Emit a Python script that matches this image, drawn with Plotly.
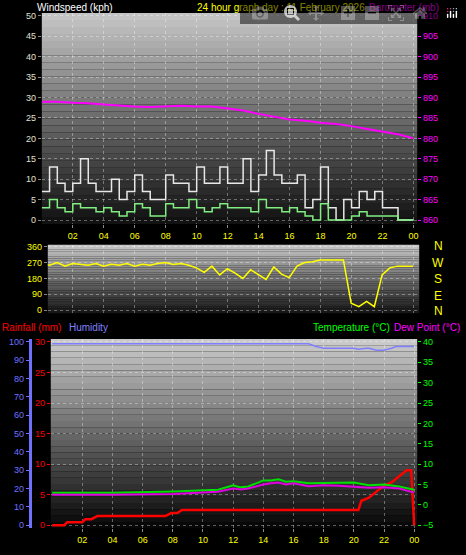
import plotly.graph_objects as go

H = 555.0
W = 466.0
def py(p): return 1 - p / H
def px(p): return p / W

hours_half = [i * 0.5 for i in range(49)]
gust = [7,13,9,7,9,15,9,7,7,10,5,7,11,7,5,5,11,9,9,7,13,9,9,13,9,9,15,7,11,17,11,9,9,11,3,5,13,3,0,5,3,7,5,7,3,3,0,0,0]
avg = [3,5,3,2,4,3,3,2,3,2,1,2,4,3,1,1,4,3,3,5,3,2,3,4,3,3,3,2,5,3,3,2,3,2,1,0,4,0,0,0,1,2,1,1,1,1,0,0,0]
wdir = [265,255,270,250,265,260,255,265,250,260,255,265,250,260,255,265,270,260,265,255,240,215,250,200,235,210,180,230,200,175,245,205,185,250,270,275,285,285,285,285,40,20,50,20,200,240,250,250,250]

baro_h = list(range(25))
baro = [889,889,888.7,888.6,888.3,888,887.8,887.7,887.8,888,887.8,887.8,887.3,886.8,886,885.3,884.6,884.3,883.8,883.5,883,882.3,881.6,881,880]

rain_h = [0,0.8,1,2,2.2,2.6,3,7.5,7.9,8.3,8.6,20.3,20.5,21,21.5,22,22.5,23,23.5,23.8,23.95,24]
rain = [0,0,0.5,0.5,1,1,1.5,1.5,2,2,2.5,2.5,4,4.5,5.5,6.5,7,8,9,9,0.5,0]
hum_h = [0,17,17.5,18,20,20.3,20.8,21,21.5,22,22.5,22.8,24]
hum = [99,99,97.5,96.5,96.5,96,96.5,96.5,95.5,95.5,96.5,97.5,97.5]
temp_h = [0,4,8,10,11,12,12.5,13,14,14.5,15,15.5,16,17,18,19,20,21,22,23,24]
temp = [3,3,3.3,3.5,3.7,4.8,4.3,4.5,6,6,6.3,5.7,5.8,5.3,5.4,5.5,5.5,4.8,5,4.5,3.7]
dew = [2.5,2.5,2.7,3,3.2,4,3.8,4,5,5.3,5.5,5,5.3,4.6,4.8,4.7,4.5,4.2,4.3,4,3]

tick_vals = [2,4,6,8,10,12,14,16,18,20,22,24]
tick_text = ["02","04","06","08","10","12","14","16","18","20","22","00"]

fig = go.Figure()
fig.add_trace(go.Scatter(x=hours_half, y=gust, mode="lines", line=dict(color="#e8e8e8", width=1.5, shape="hv"), xaxis="x", yaxis="y"))
fig.add_trace(go.Scatter(x=hours_half, y=avg, mode="lines", line=dict(color="#80ee80", width=1.5, shape="hv"), xaxis="x", yaxis="y"))
fig.add_trace(go.Scatter(x=baro_h, y=baro, mode="lines", line=dict(color="#ff00ff", width=2), xaxis="x", yaxis="y2"))
fig.add_trace(go.Scatter(x=hours_half, y=wdir, mode="lines", line=dict(color="#ffff00", width=1.5), xaxis="x2", yaxis="y3"))
fig.add_trace(go.Scatter(x=hum_h, y=hum, mode="lines", line=dict(color="#8080ff", width=1.5), xaxis="x3", yaxis="y5"))
fig.add_trace(go.Scatter(x=temp_h, y=temp, mode="lines", line=dict(color="#00e000", width=2), xaxis="x3", yaxis="y6"))
fig.add_trace(go.Scatter(x=temp_h, y=dew, mode="lines", line=dict(color="#e000e0", width=2), xaxis="x3", yaxis="y6"))
fig.add_trace(go.Scatter(x=rain_h, y=rain, mode="lines", line=dict(color="#ff0000", width=2.5), xaxis="x3", yaxis="y4"))

shapes = []
def gradient(x0, x1, y0, y1, top=200, bottom=10, n=30):
    for i in range(n):
        a = y0 + (y1 - y0) * i / n
        b = y0 + (y1 - y0) * (i + 1) / n
        c = int(top + (bottom - top) * (i + 0.5) / n)
        shapes.append(dict(type="rect", xref="paper", yref="paper", x0=px(x0), x1=px(x1),
                           y0=py(b), y1=py(a), fillcolor=f"rgb({c},{c},{c})", line_width=0, layer="below"))
gradient(42, 419, 10, 223, 200, 15)
gradient(48, 421, 244, 313, 200, 20)
gradient(51, 419, 339, 530, 205, 5)

grid = dict(showgrid=True, gridcolor="rgba(255,255,255,0.35)", griddash="dot", zeroline=False)
tf = dict(size=9, family="Liberation Sans")
lay = dict(
    width=466, height=555, paper_bgcolor="black", plot_bgcolor="rgba(0,0,0,0)",
    margin=dict(l=0, r=0, t=0, b=0), showlegend=False, shapes=shapes,
    xaxis=dict(domain=[px(42), px(419)], range=[0, 24.24], anchor="y", tickvals=tick_vals, ticktext=tick_text,
               tickfont=dict(color="#ffff00", **tf), ticks="outside", ticklen=3, tickcolor="#888", **grid),
    yaxis=dict(domain=[py(223), py(10)], range=[-0.97, 50.73], dtick=5, tickfont=dict(color="#e0e0d0", **tf),
               ticks="outside", ticklen=3, tickcolor="#888", **grid),
    yaxis2=dict(overlaying="y", side="right", range=[859.03, 910.73], dtick=5, showgrid=False, zeroline=False,
                tickfont=dict(color="#ff00ff", **tf), ticks="outside", ticklen=3, tickcolor="#ff00ff"),
    xaxis2=dict(domain=[px(48), px(421)], range=[0.39, 24.4], anchor="y3", tickvals=tick_vals, showticklabels=False, **grid),
    yaxis3=dict(domain=[py(313), py(244)], range=[-16.9, 371], anchor="x2", tickvals=[0,90,180,270,360],
                tickfont=dict(color="#ffff00", **tf), ticks="outside", ticklen=3, tickcolor="#888", **grid),
    xaxis3=dict(domain=[px(51), px(419)], range=[-0.09, 24.2], anchor="y4", tickvals=tick_vals, ticktext=tick_text,
                tickfont=dict(color="#ffff00", **tf), ticks="outside", ticklen=3, tickcolor="#888", **grid),
    yaxis4=dict(domain=[py(530), py(339)], range=[-0.49, 30.49], anchor="x3", dtick=5,
                tickfont=dict(color="#ff0000", **tf), ticks="outside", ticklen=3, tickcolor="#ff0000", **grid),
    yaxis5=dict(overlaying="y4", side="left", anchor="free", position=px(30), range=[-1.6, 101.6], dtick=10,
                showgrid=False, zeroline=False, tickfont=dict(color="#7070ff", **tf), showline=True,
                linecolor="#7070ff", linewidth=3, ticks="outside", ticklen=3, tickcolor="#7070ff"),
    yaxis6=dict(overlaying="y4", side="right", anchor="x3", range=[-5.73, 40.73], dtick=5, showgrid=False,
                zeroline=False, tickfont=dict(color="#00ff00", **tf), ticks="outside", ticklen=3, tickcolor="#00ff00"),
)
fig.update_layout(**lay)

def note(text, x, y, color, anchor="left", size=10):
    fig.add_annotation(text=text, x=px(x), y=py(y), xref="paper", yref="paper", showarrow=False,
                       xanchor=anchor, yanchor="middle", font=dict(color=color, size=size, family="Liberation Sans"))
note("Windspeed (kph)", 35, 5, "white")
note("24 hour graph day : 11 February 2026", 282, 5, "#ffff00", "center")
note("Barometer (mb)", 443, 5, "#ff00ff", "right")
note("Rainfall (mm)", 0, 327, "#ff0000")
note("Humidity", 67, 327, "#8080ff")
note("Temperature (°C)", 312, 327, "#00ff00")
note("Dew Point (°C)", 464, 327, "#ff00ff", "right")
for lbl, yy in zip(["N", "W", "S", "E", "N"], [245, 262, 279, 296, 311]):
    note(lbl, 440, yy, "#ffff00", "center", 12)

fig.write_html("out.html", post_script="document.body.style.margin='0px';document.body.style.overflow='hidden';")
